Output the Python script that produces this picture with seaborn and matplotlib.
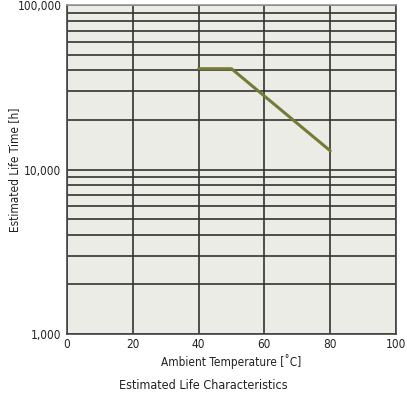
import matplotlib
matplotlib.use("Agg")
import numpy as np
import seaborn as sns
from matplotlib import pyplot as plt
from matplotlib.ticker import FixedLocator, NullFormatter

# curve
temperature = [40, 50, 80]
life_hours = [41000, 41000, 13000]

x_ticks = [0, 20, 40, 60, 80, 100]
y_major = [1000, 10000, 100000]
y_labels = ["1,000", "10,000", "100,000"]

sns.set_theme(style="white")
plt.rcParams["font.family"] = ["DejaVu Sans"]
plt.rcParams["font.stretch"] = "condensed"

fig = plt.figure(figsize=(4.07, 3.97), dpi=100)
ax = fig.add_axes([0.1646, 0.1587, 0.8084, 0.8286])
ax.set_facecolor("#ecece6")

sns.lineplot(x=temperature, y=life_hours, ax=ax, color="#767a36", linewidth=2.2)

ax.set_yscale("log")
ax.set_xlim(0, 100)
ax.set_ylim(1000, 100000)

ax.xaxis.set_major_locator(FixedLocator(x_ticks))
ax.set_xticklabels([str(t) for t in x_ticks])
ax.yaxis.set_major_locator(FixedLocator(y_major))
ax.set_yticklabels(y_labels)
minor = [m * 10 ** d for d in (3, 4) for m in range(2, 10)]
ax.yaxis.set_minor_locator(FixedLocator(minor))
ax.yaxis.set_minor_formatter(NullFormatter())

ax.grid(True, which="major", axis="both", color="#333333", linewidth=1.2)
ax.grid(True, which="minor", axis="y", color="#333333", linewidth=1.2)
ax.set_axisbelow(True)

ax.tick_params(axis="both", which="both", length=0, labelsize=8.5, colors="#222222")
ax.tick_params(axis="x", pad=3)
ax.tick_params(axis="y", pad=4)

for side in ["left", "bottom", "right"]:
    ax.spines[side].set_color("#444444")
    ax.spines[side].set_linewidth(1.2)
ax.spines["top"].set_color("#999999")
ax.spines["top"].set_linewidth(1.2)

ax.set_xlabel("Ambient Temperature [˚C]", fontsize=8.5, color="#222222", labelpad=2)
ax.set_ylabel("Estimated Life Time [h]", fontsize=8.5, color="#222222")
ax.yaxis.set_label_coords(-0.14, 0.5)

fig.text(0.5, 0.03, "Estimated Life Characteristics", ha="center", va="center",
         fontsize=9, color="#222222")

fig.savefig("out.png", dpi=100, facecolor="white")
